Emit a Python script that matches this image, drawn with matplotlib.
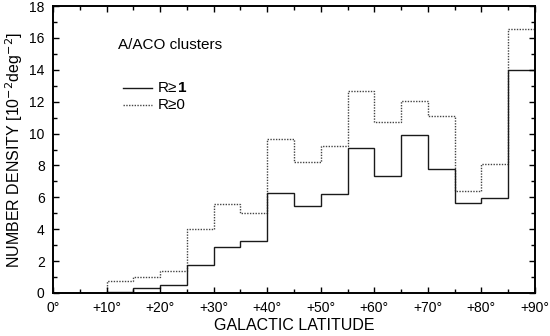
import numpy as np
import matplotlib
matplotlib.use('Agg')
import matplotlib.pyplot as plt
from matplotlib.ticker import MultipleLocator

plt.rcParams['font.family'] = ['Liberation Sans', 'DejaVu Sans']

# bin edges in galactic latitude (deg)
edges = np.arange(0, 95, 5)
# number density, 10^-2 deg^-2
r_ge1 = [0, 0, 0.08, 0.29, 0.48, 1.74, 2.89, 3.24, 6.25, 5.46, 6.21, 9.12, 7.36, 9.89, 7.75, 5.63, 5.96, 14.0]
r_ge0 = [0, 0, 0.75, 0.98, 1.38, 4.0, 5.56, 5.04, 9.66, 8.24, 9.25, 12.7, 10.7, 12.06, 11.08, 6.4, 8.09, 16.56]
xtick_vals = [0, 10, 20, 30, 40, 50, 60, 70, 80, 90]
xtick_labels = ['0°', '+10°', '+20°', '+30°', '+40°', '+50°', '+60°', '+70°', '+80°', '+90°']

fig = plt.figure(figsize=(5.5, 3.36), dpi=100)
ax = fig.add_axes([0.0964, 0.128, 0.8763, 0.854])

ax.stairs(r_ge0, edges, baseline=None, color='#444444', linestyle=(0, (1, 1)), linewidth=1.0)
ax.stairs(r_ge1, edges, baseline=None, color='#1a1a1a', linewidth=1.0)

ax.set_xlim(0, 90)
ax.set_ylim(0, 18)
ax.set_xticks(xtick_vals)
ax.set_xticklabels(xtick_labels)
ax.xaxis.set_minor_locator(MultipleLocator(5))
ax.yaxis.set_major_locator(MultipleLocator(2))
ax.yaxis.set_minor_locator(MultipleLocator(1))
ax.tick_params(which='both', direction='in', top=True, right=True, labelsize=10, pad=6)
ax.tick_params(which='major', length=4, width=1)
ax.tick_params(which='minor', length=3, width=1)
for s in ax.spines.values():
    s.set_linewidth(1.4)

ax.set_xlabel('GALACTIC LATITUDE', fontsize=11.5, labelpad=2)
ax.set_ylabel('NUMBER DENSITY [10$^{-2}$deg$^{-2}$]', fontsize=11.5, labelpad=3)

# legend block
ax.text(0.135, 0.85, 'A/ACO clusters', transform=ax.transAxes, fontsize=11)
ax.plot([0.145, 0.205], [0.714, 0.714], transform=ax.transAxes, color='#1a1a1a', linewidth=1.0)
ax.plot([0.145, 0.205], [0.655, 0.655], transform=ax.transAxes, color='#444444', linewidth=1.0, linestyle=(0, (1, 1)))
t1 = ax.text(0.218, 0.714, 'R≥', transform=ax.transAxes, fontsize=11, va='center')
ax.annotate('1', xy=(1, 0.5), xycoords=t1, xytext=(0.5, 0), textcoords='offset points',
            fontsize=11, va='center', ha='left', fontweight='bold')
ax.text(0.218, 0.655, 'R≥0', transform=ax.transAxes, fontsize=11, va='center')

fig.savefig('out.png', dpi=100)
